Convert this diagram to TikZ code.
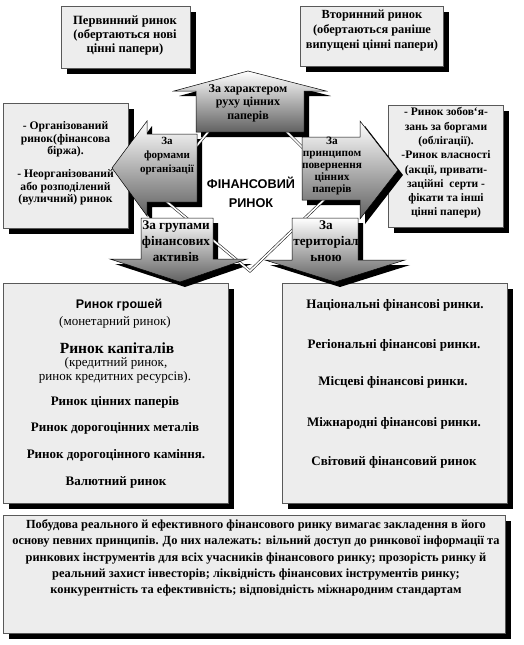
\documentclass[tikz,border=0pt]{standalone}
\usepackage{fontspec}
\setmainfont{Liberation Serif}
\newfontfamily\sansf{Liberation Sans}
\newcommand\fsz[2]{\fontsize{#1}{#2}\selectfont}
\newcommand\arrT[1]{\path[#1] (196,132) -- (196,91) -- (174,91) -- (248,71) -- (326,91) -- (304,91) -- (304,132) -- cycle;}
\newcommand\arrL[1]{\path[#1] (197,134) -- (147,134) -- (147,121) -- (112,168) -- (147,216) -- (147,202) -- (197,202) -- cycle;}
\newcommand\arrR[1]{\path[#1] (302,137) -- (360,137) -- (360,121) -- (398,170) -- (360,219) -- (360,200) -- (302,200) -- cycle;}
\newcommand\arrBL[1]{\path[#1] (141,218) -- (213,218) -- (213,259) -- (247,259) -- (180,282) -- (110,259) -- (141,259) -- cycle;}
\newcommand\arrBR[1]{\path[#1] (292,218) -- (358,218) -- (358,260) -- (405,260) -- (335,282) -- (265,260) -- (292,260) -- cycle;}
\begin{document}
\begin{tikzpicture}[x=1pt,y=-1pt,
  boxst/.style={draw=black!65, line width=0.6pt, fill=black!7, inner sep=0pt, outer sep=0pt,
    anchor=north west},
  boxshadow/.style={fill=black},
  txt/.style={align=center, inner sep=0pt, font=\bfseries\fsz{12}{14}},
  item/.style={inner sep=0pt, font=\bfseries\fsz{13}{14}},
  arrshadow/.style={fill=black, shift={(5,5)}},
  arrst/.style={draw=black, line width=0.5pt, top color=white, bottom color=black!62},
  dline/.style={draw=black!85, line width=0.6pt, double=white, double distance=1.6pt}]
\useasboundingbox (0,0) rectangle (523,645);
\fill[white] (0,0) rectangle (523,645);

% box shadows
\fill[boxshadow] (67,12) rectangle (196,74);
\fill[boxshadow] (306,12) rectangle (449,72);
\fill[boxshadow] (9,109) rectangle (134,234);
\fill[boxshadow] (394,111) rectangle (509,233);
\fill[boxshadow] (9,289) rectangle (234,509);
\fill[boxshadow] (288,289) rectangle (513,509);
\fill[boxshadow] (9,521) rectangle (511,639);

% boxes
\node[boxst, minimum width=129pt, minimum height=62pt] (tl) at (61,6) {};
\node[boxst, minimum width=143pt, minimum height=60pt] (tr) at (300,6) {};
\node[boxst, minimum width=125pt, minimum height=125pt] (lb) at (3,103) {};
\node[boxst, minimum width=115pt, minimum height=122pt] (rb) at (388,105) {};
\node[boxst, minimum width=225pt, minimum height=220pt] (bl) at (3,283) {};
\node[boxst, minimum width=225pt, minimum height=220pt] (br) at (282,283) {};
\node[boxst, minimum width=502pt, minimum height=118pt] (bb) at (3,515) {};

% arrow shadows
\arrT{arrshadow}
\arrL{arrshadow}
\arrR{arrshadow}
\arrBL{arrshadow}
\arrBR{arrshadow}

% double-line frame
\draw[dline] (218,120) -- (185,160) -- (160,196) -- (250,271) -- (330,194) -- (315,160) -- (275,120) -- cycle;

% arrows
\arrT{arrst}
\arrL{arrst}
\arrR{arrst}
\arrBL{arrst}
\arrBR{arrst}

% texts of boxes
\node[txt, font=\bfseries\fsz{12.6}{14}] (tlt) at (125,36) {Первинний ринок\\(обертаються нові\\цінні папери)};
\node[txt, font=\bfseries\fsz{12.4}{15}] (trt) at (372,30.5) {Вторинний ринок\\(обертаються раніше\\випущені цінні папери)};
\node[txt, font=\bfseries\fsz{11.6}{12.5}] (lbt) at (65.5,163.5) {- Організований\\ринок(фінансова\\біржа).\\[10.5pt]- Неорганізований\\або розподілений\\(вуличний) ринок};
\node[txt, font=\bfseries\fsz{11.5}{14.3}] (rbt) at (446,163) {- Ринок зобов`я-\\зань за боргами\\(облігації).\\-Ринок власності\\(акції, привати-\\заційні~ серти -\\фікати та інші\\цінні папери)};

% arrow labels
\node[txt, font=\bfseries\fsz{12}{13.5}] (at) at (248,103) {За характером\\руху цінних\\паперів};
\node[txt, font=\bfseries\fsz{11}{14}] (al) at (167,156) {За\\формами\\організації};
\node[txt, font=\bfseries\fsz{11.3}{12.2}] (ar) at (332,166) {За\\принципом\\повернення\\цінних\\паперів};
\node[txt, font=\bfseries\fsz{13.2}{16}] (abl) at (176,241) {За групами\\фінансових\\активів};
\node[txt, font=\bfseries\fsz{13.2}{16}] (abr) at (326,241) {За\\територіал\\ьною};
\node[txt, font=\sansf\bfseries\fsz{12.7}{19}] (ctr) at (251,192.5) {ФІНАНСОВИЙ\\РИНОК};

% left bottom list
\node[item, font=\sansf\bfseries\fsz{12.5}{14}] (b1) at (119,305) {Ринок грошей};
\node[item, font=\fsz{13}{14}] (b2) at (115,322) {(монетарний ринок)};
\node[item, font=\bfseries\fsz{15.5}{16}] (b3) at (117,348) {Ринок капіталів};
\node[item, font=\fsz{13}{14}] (b4) at (116,363) {(кредитний ринок,};
\node[item, font=\fsz{13}{14}] (b5) at (115,377) {ринок кредитних ресурсів).};
\node[item] (b6) at (115,402) {Ринок цінних паперів};
\node[item] (b7) at (115,428) {Ринок дорогоцінних металів};
\node[item] (b8) at (116,455) {Ринок дорогоцінного каміння.};
\node[item] (b9) at (116,482) {Валютний ринок};

% right bottom list
\node[item] (r1) at (395,305) {Національні фінансові ринки.};
\node[item] (r2) at (394,345) {Регіональні фінансові ринки.};
\node[item] (r3) at (393,382) {Місцеві фінансові ринки.};
\node[item] (r4) at (394,423) {Міжнародні фінансові ринки.};
\node[item] (r5) at (394,462) {Світовий фінансовий ринок};

% bottom text
\node[txt, font=\bfseries\fsz{12.4}{16.3}] (bbt) at (256,558) {Побудова реального й ефективного фінансового ринку вимагає закладення в його\\основу певних принципів. До них належать: вільний доступ до ринкової інформації та\\ринкових інструментів для всіх учасників фінансового ринку; прозорість ринку й\\реальний захист інвесторів; ліквідність фінансових інструментів ринку;\\конкурентність та ефективність; відповідність міжнародним стандартам};
\end{tikzpicture}
\end{document}
